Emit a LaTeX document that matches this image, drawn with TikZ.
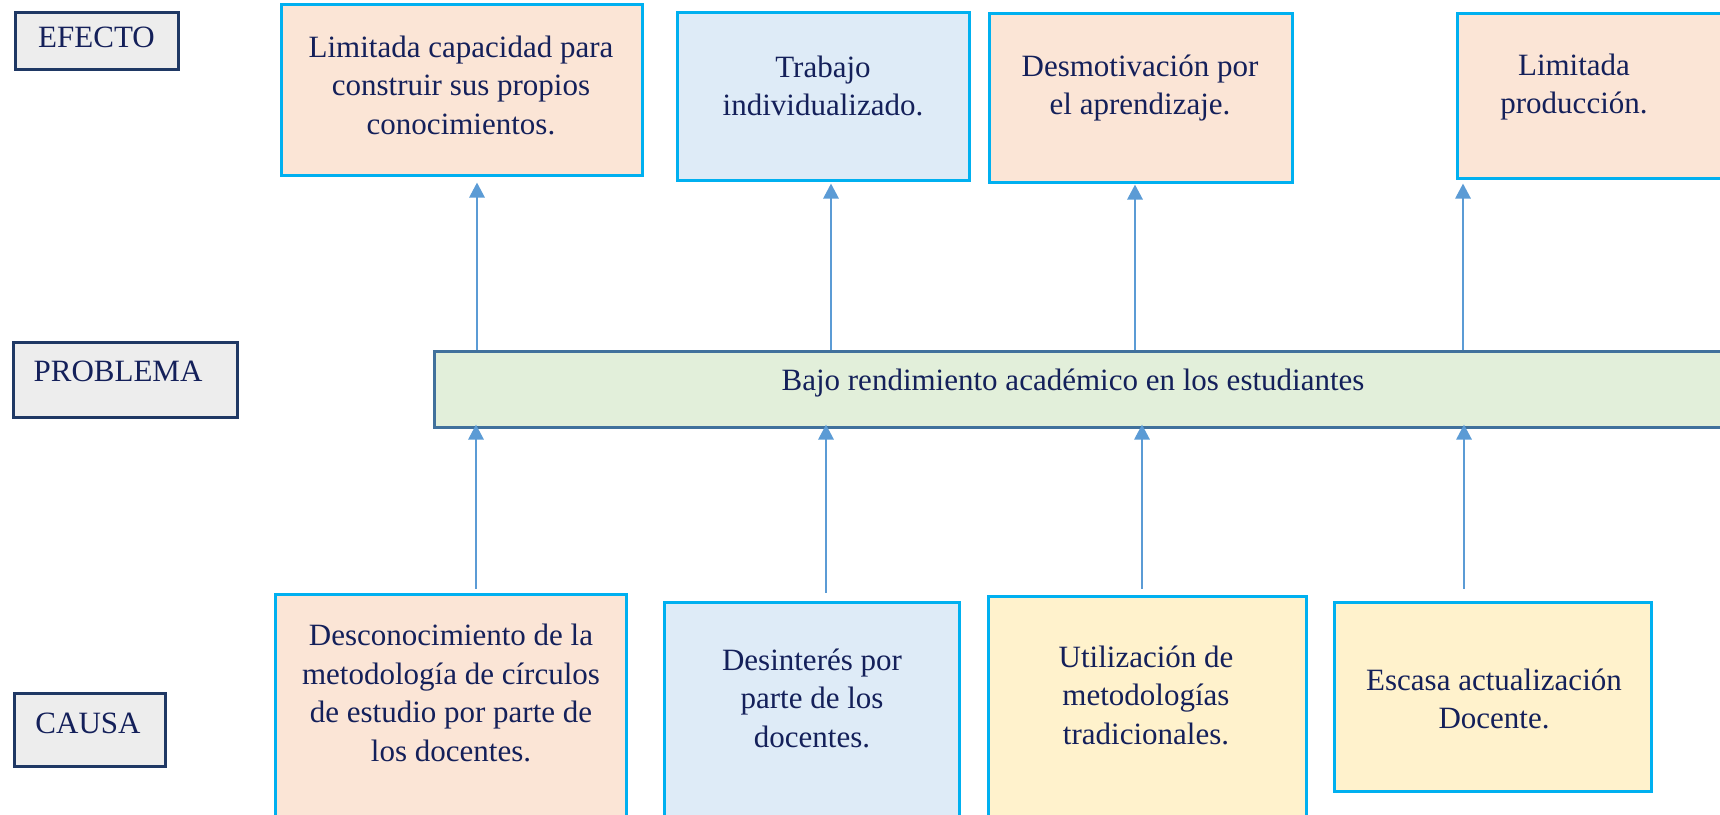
\documentclass[tikz,border=0pt]{standalone}
\usepackage{fontspec}
\setmainfont{Liberation Serif}
\usetikzlibrary{arrows.meta,positioning}

\definecolor{navytext}{HTML}{14205A}
\definecolor{cyanline}{HTML}{00B0F0}
\definecolor{peach}{HTML}{FBE5D6}
\definecolor{paleblue}{HTML}{DEEBF7}
\definecolor{paleyellow}{HTML}{FFF2CC}
\definecolor{palegreen}{HTML}{E2EFDA}
\definecolor{steelline}{HTML}{41719C}
\definecolor{arrowblue}{HTML}{5B9BD5}
\definecolor{taggray}{HTML}{EDEDED}
\definecolor{tagline}{HTML}{1F3864}

\tikzset{
  box/.style={draw=cyanline, line width=3pt, rectangle, inner sep=0pt},
  tag/.style={draw=tagline, fill=taggray, line width=3pt, rectangle, inner sep=0pt},
  txt/.style={text=navytext, align=center, inner sep=0pt, font=\fontsize{31}{38.5}\selectfont},
  arr/.style={draw=arrowblue, line width=2.8pt, -{Triangle[length=15pt,width=15pt]}}
}

\begin{document}
\begin{tikzpicture}[x=1pt, y=-1pt]
  \useasboundingbox (0,0) rectangle (1720,814);

  % left column tags
  \node[tag, minimum width=163, minimum height=57] (efecto) at (96.5,40.5) {};
  \node[txt] (efectot) at (96.5,37) {EFECTO};
  \node[tag, minimum width=224, minimum height=75] (problema) at (125,379.5) {};
  \node[txt] (problemat) at (118,371) {PROBLEMA};
  \node[tag, minimum width=151, minimum height=73] (causa) at (89.5,729.5) {};
  \node[txt] (causat) at (88,723) {CAUSA};

  % effects
  \node[box, fill=peach, minimum width=361, minimum height=171] (e1) at (461.5,89.5) {};
  \node[txt] (e1t) at (461,85) {Limitada capacidad para\\construir sus propios\\conocimientos.};
  \node[box, fill=paleblue, minimum width=292, minimum height=168] (e2) at (823,96) {};
  \node[txt] (e2t) at (823,86) {Trabajo\\individualizado.};
  \node[box, fill=peach, minimum width=303, minimum height=169] (e3) at (1140.5,97.5) {};
  \node[txt] (e3t) at (1140,88) {Desmotivación por\\el aprendizaje.};
  \node[box, fill=peach, minimum width=302, minimum height=165] (e4) at (1608,95.5) {};
  \node[txt] (e4t) at (1574,87) {Limitada\\producción.};

  % problem
  \node[draw=steelline, fill=palegreen, line width=3pt, minimum width=1306, minimum height=76] (prob) at (1087,389) {};
  \node[txt] (probt) at (1073,383) {Bajo rendimiento académico en los estudiantes};

  % causes
  \node[box, fill=peach, minimum width=351, minimum height=245] (c1) at (450.5,716.5) {};
  \node[txt] (c1t) at (451,693) {Desconocimiento de la\\metodología de círculos\\de estudio por parte de\\los docentes.};
  \node[box, fill=paleblue, minimum width=295, minimum height=237] (c2) at (811.5,720.5) {};
  \node[txt] (c2t) at (812,698) {Desinterés por\\parte de los\\docentes.};
  \node[box, fill=paleyellow, minimum width=318, minimum height=243] (c3) at (1147,717.5) {};
  \node[txt] (c3t) at (1146,695) {Utilización de\\metodologías\\tradicionales.};
  \node[box, fill=paleyellow, minimum width=317, minimum height=189] (c4) at (1492.5,696.5) {};
  \node[txt] (c4t) at (1494,699) {Escasa actualización\\Docente.};

  % arrow columns
  \coordinate (u1) at (477,0);
  \coordinate (u2) at (831,0);
  \coordinate (u3) at (1135,0);
  \coordinate (u4) at (1463,0);
  \coordinate (d1) at (476,0);
  \coordinate (d2) at (826,0);
  \coordinate (d3) at (1142,0);
  \coordinate (d4) at (1464,0);

  % problem to effects
  \draw[arr, shorten >=6pt] (prob.north -| u1) -- (e1.south -| u1);
  \draw[arr, shorten >=2pt] (prob.north -| u2) -- (e2.south -| u2);
  \draw[arr, shorten >=1pt] (prob.north -| u3) -- (e3.south -| u3);
  \draw[arr, shorten >=4pt] (prob.north -| u4) -- (e4.south -| u4);

  % causes to problem
  \draw[arr, shorten <=4pt, shorten >=-4pt] (c1.north -| d1) -- (prob.south -| d1);
  \draw[arr, shorten <=8pt, shorten >=-4pt] (c2.north -| d2) -- (prob.south -| d2);
  \draw[arr, shorten <=6pt, shorten >=-4pt] (c3.north -| d3) -- (prob.south -| d3);
  \draw[arr, shorten <=12pt, shorten >=-4pt] (c4.north -| d4) -- (prob.south -| d4);
\end{tikzpicture}
\end{document}
